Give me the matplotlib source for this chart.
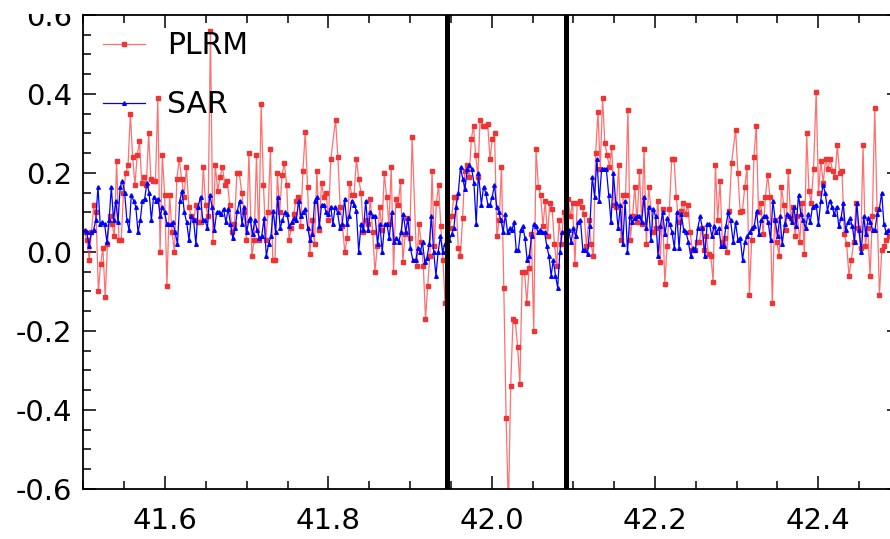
import numpy as np
import matplotlib
matplotlib.use("Agg")
import matplotlib.pyplot as plt
from matplotlib.patches import Rectangle
from matplotlib.ticker import MultipleLocator

# PLRM heights, one list per stretch of latitude
plrm_a = [0.05, 0.03, -0.02, 0.05, 0.12, 0.10, -0.10, -0.03, 0.01, -0.115, 0.02, 0.09, 0.07,
          0.04, 0.23, 0.03, 0.03, 0.15, 0.20, 0.22, 0.35, 0.24, 0.17, 0.245, 0.28, 0.175, 0.19,
          0.17, 0.30, 0.185, 0.18, 0.18, 0.39, 0.0, 0.245, 0.145, -0.085]
plrm_b = [0.145, 0.05, 0.0, 0.185, 0.235, 0.185, 0.14, 0.215, 0.115, 0.09, 0.08, 0.12, 0.075,
          0.075, 0.215, 0.12, 0.09, 0.56, 0.025, 0.22, 0.155, 0.19, 0.215, 0.17, 0.18, 0.12,
          0.05, 0.07, 0.2, 0.2, 0.15, 0.10, 0.03, 0.25]
plrm_c = [-0.01, 0.03, 0.245, 0.03, 0.375, 0.17, 0.03, 0.10, 0.26, -0.02, -0.02, 0.2, 0.10,
          0.195, 0.225, 0.17, 0.03, 0.06, 0.095, 0.13, 0.14, 0.065, 0.205, 0.305, 0.165, -0.005,
          0.08, 0.02, 0.205, 0.055, 0.175, 0.14, 0.15, 0.08, 0.235]
plrm_d = [0.335, 0.24, 0.115, 0.065, 0.0, 0.035, 0.175, 0.145, 0.145, 0.235, 0.185, 0.15, 0.05,
          0.08, 0.07, 0.135, 0.05, -0.05, 0.015, 0.115, 0.055, 0.20, 0.14, 0.07, 0.215, -0.05,
          0.135, 0.12, 0.18, -0.025, 0.045, 0.085, 0.035, 0.29]
plrm_e = [-0.035, 0.07, 0.025, -0.035, -0.17, -0.085, -0.01, 0.205, 0.015, 0.125, 0.17, 0.065,
          -0.02, -0.13, 0.03, 0.06, 0.09, 0.14, 0.14, 0.01, -0.01, 0.085, 0.205, 0.22, 0.19,
          0.285, 0.32, 0.245, 0.19, 0.335]
plrm_f = [0.32, 0.32, 0.325, 0.235, 0.285, 0.30, 0.04, 0.08, 0.215, -0.09, -0.42, -0.65, -0.34,
          -0.17, -0.175, -0.24, -0.335, -0.05, -0.05, -0.13, -0.04, 0.045, -0.20, 0.26, 0.165,
          0.145, 0.065, 0.13, 0.04, 0.125, 0.11, 0.02, -0.035, 0.08, 0.02, 0.10]
plrm_g = [0.135, 0.09, 0.125, -0.03, 0.125, 0.13, 0.115, 0.095, 0.015, 0.08, 0.02, -0.01, 0.25,
          0.355, 0.21, 0.39, 0.275, 0.245, 0.215, 0.265, 0.12, 0.115, 0.22, 0.03, 0.145, 0.145,
          0.36, 0.03, 0.09, 0.165, 0.075, 0.205, 0.07, 0.26, 0.02, 0.165]
plrm_h = [0.05, 0.06, 0.13, -0.025, 0.11, -0.08, 0.015, 0.11, 0.235, 0.235, 0.14, 0.075, 0.105,
          0.125, 0.095, 0.12, 0.05, 0.005, 0.005, 0.025, 0.025, 0.06, 0.005, 0.04, -0.005,
          -0.01, -0.075, 0.22, 0.08, 0.18, 0.025, 0.035, 0.0, 0.105, 0.225]
plrm_i = [0.31, 0.20, 0.10, 0.105, 0.165, 0.215, -0.11, 0.03, 0.24, 0.32, 0.10, 0.125, 0.045,
          0.14, 0.195, 0.14, -0.13, 0.08, 0.025, -0.01, 0.165, 0.12, 0.055, 0.205, 0.085, 0.115,
          0.04, 0.09, 0.025, 0.125, -0.005, 0.30, 0.155, 0.125, 0.21]
plrm_j = [0.405, 0.15, 0.23, 0.175, 0.235, 0.21, 0.235, 0.205, 0.19, 0.27, 0.20, 0.205, 0.045,
          0.02, -0.06, -0.02, 0.025, 0.125, 0.06, 0.01, 0.27, 0.015, 0.06, -0.06, 0.09, 0.365,
          0.11, -0.11, 0.005, 0.015, 0.03, 0.04]

# SAR heights
sar_a = [0.055, 0.05, 0.015, 0.05, 0.055, 0.08, 0.165, 0.07, 0.075, 0.07, 0.025, 0.08, 0.165,
         0.08, 0.13, 0.075, 0.165, 0.18, 0.15, 0.08, 0.055, 0.145, 0.13, 0.115, 0.05, 0.08, 0.13,
         0.135, 0.175, 0.15, 0.08, 0.14, 0.13, 0.135, 0.09, 0.115, 0.10, 0.07]
sar_b = [0.07, 0.07, 0.075, 0.05, 0.02, 0.13, 0.155, 0.10, 0.075, 0.03, 0.09, 0.08, 0.02, 0.115,
         0.14, 0.08, 0.08, 0.06, 0.145, 0.115, 0.055, 0.10, 0.10, 0.095, 0.11, 0.075, 0.11, 0.07,
         0.035, 0.06, 0.105, 0.13, 0.07, 0.115, 0.05, 0.08]
sar_c = [0.085, 0.045, 0.08, 0.055, 0.035, 0.04, 0.085, -0.01, 0.02, 0.04, 0.105, 0.05, 0.14,
         0.06, 0.08, 0.10, 0.095, 0.065, 0.075, 0.085, 0.08, 0.13, 0.09, 0.10, 0.11, 0.06, 0.03,
         0.045, 0.13, 0.14, 0.065, 0.12, 0.12, 0.10, 0.095, 0.115]
sar_d = [0.07, 0.115, 0.10, 0.06, 0.07, 0.135, 0.07, 0.09, 0.13, 0.12, 0.105, 0.0, 0.07, 0.055,
         0.13, 0.055, 0.10, 0.09, 0.09, 0.02, 0.07, 0.0, 0.07, 0.07, 0.035, 0.10, 0.025, 0.035,
         0.025, 0.05, 0.095, 0.05, 0.085, 0.01, -0.02]
sar_e = [-0.02, 0.01, 0.0, 0.025, -0.025, -0.015, 0.02, 0.09, 0.0, -0.06, 0.0, 0.04, 0.0, 0.02,
         0.03, 0.03, 0.045, 0.06, 0.115, 0.15, 0.215, 0.185, 0.16, 0.21, 0.22, 0.21, 0.175, 0.07,
         0.20]
sar_f = [0.12, 0.165, 0.15, 0.12, 0.12, 0.14, 0.17, 0.115, 0.10, 0.08, 0.05, 0.095, 0.05, 0.06,
         0.055, 0.075, 0.005, 0.005, 0.055, 0.065, 0.035, -0.02, -0.01, 0.04, 0.07, 0.065, 0.05,
         0.055, 0.05, 0.05, 0.015, -0.01, -0.06, -0.02, -0.06, -0.09, 0.0, 0.05]
sar_g = [0.055, 0.025, 0.06, 0.04, 0.075, 0.08, 0.005, 0.005, -0.005, 0.065, 0.19, 0.14, 0.235,
         0.13, 0.21, 0.21, 0.21, 0.145, 0.075, 0.2, 0.125, 0.06, 0.12, 0.02, 0.13, 0.0, 0.09,
         0.075, 0.085, 0.09, 0.09, 0.075, 0.14, 0.06, 0.115]
sar_h = [0.03, 0.11, 0.09, -0.01, 0.065, 0.10, 0.045, 0.085, 0.07, 0.05, 0.01, 0.10, 0.01, 0.095,
         0.055, 0.05, 0.025, -0.01, 0.01, 0.005, 0.06, 0.09, 0.06, -0.01, 0.07, 0.07, 0.04, 0.065,
         0.05, 0.06, 0.015, 0.015, 0.065, 0.10, 0.08]
sar_i = [0.025, 0.075, 0.03, 0.035, -0.02, 0.025, 0.04, 0.05, 0.06, 0.065, 0.105, 0.045, 0.08,
         0.09, 0.09, 0.075, 0.03, 0.13, 0.08, 0.04, 0.09, 0.02, 0.07, 0.095, 0.09, 0.075, 0.115,
         0.065, 0.145, 0.095, 0.08, 0.06, 0.095, 0.075, 0.115]
sar_j = [0.12, 0.07, 0.13, 0.17, 0.15, 0.105, 0.13, 0.115, 0.095, 0.115, 0.065, 0.085, 0.125,
         0.055, 0.075, 0.085, 0.065, 0.025, 0.125, 0.055, 0.0, 0.09, 0.045, 0.085, 0.075, 0.055,
         0.055, 0.095, 0.11, 0.15, 0.07, 0.05, 0.055]

# first and last latitude of each stretch (samples are evenly spaced inside it)
plrm_edges = [(41.5014, 41.6022), (41.6055, 41.7026), (41.7062, 41.8029), (41.8087, 41.9025),
              (41.9082, 41.9857), (41.9894, 42.0881), (42.0934, 42.1922), (42.1979, 42.2937),
              (42.2987, 42.3941), (42.3974, 42.4863)]
sar_edges = [(41.5014, 41.6022), (41.6038, 41.7026), (41.7042, 41.8029), (41.8054, 41.9033),
             (41.9070, 41.9837), (41.9873, 42.0861), (42.0943, 42.1922), (42.1950, 42.2925),
             (42.2958, 42.3929), (42.3974, 42.4859)]

# borders of the zone marked by the black lines
zone_lat = [41.945, 42.091]

x_ticks = [41.6, 41.8, 42.0, 42.2, 42.4]
y_ticks = [-0.6, -0.4, -0.2, 0.0, 0.2, 0.4, 0.6]


def join(parts, edges):
    lat = np.concatenate([np.linspace(a, b, len(p)) for p, (a, b) in zip(parts, edges)])
    h = np.concatenate([np.asarray(p, dtype=float) for p in parts])
    return lat, h


def main():
    plt.rcParams['axes.unicode_minus'] = False
    plrm_lat, plrm = join([plrm_a, plrm_b, plrm_c, plrm_d, plrm_e,
                           plrm_f, plrm_g, plrm_h, plrm_i, plrm_j], plrm_edges)
    sar_lat, sar = join([sar_a, sar_b, sar_c, sar_d, sar_e,
                         sar_f, sar_g, sar_h, sar_i, sar_j], sar_edges)

    fig = plt.figure(figsize=(8.9, 5.39), dpi=100)
    ax = fig.add_axes([0.0938, 0.0928, 0.9174, 0.8794])

    ax.plot(plrm_lat, plrm, color=(1.0, 0.2, 0.2, 0.7), lw=0.9, marker='s', ms=2.6,
            mfc='#f03434', mec='#f03434', label='PLRM')
    ax.plot(sar_lat, sar, color='#0000ff', lw=0.9, marker='^', ms=2.6, label='SAR')

    for z in zone_lat:
        ax.axvline(z, color='black', lw=3.6)

    ax.set_xlim(41.5, 42.5)
    ax.set_ylim(-0.6, 0.6)
    ax.xaxis.set_minor_locator(MultipleLocator(0.05))
    ax.yaxis.set_minor_locator(MultipleLocator(0.05))
    ax.set_xticks(x_ticks)
    ax.set_xticklabels(['%.1f' % t for t in x_ticks])
    ax.set_yticks(y_ticks)
    ax.set_yticklabels(['%.1f' % t for t in y_ticks])
    ax.tick_params(which='both', direction='in', top=True, right=True, width=1.1)
    ax.tick_params(which='major', length=9.5, labelsize=21)
    ax.tick_params(which='minor', length=5.8)
    ax.tick_params(axis='x', which='major', pad=13)
    ax.tick_params(axis='y', which='major', pad=8)
    for s in ax.spines.values():
        s.set_linewidth(1.3)

    ax.legend(loc='upper left', bbox_to_anchor=(0.024, 0.966), frameon=False, fontsize=21.5,
              handlelength=1.4, handletextpad=0.74, labelspacing=1.0, borderpad=0,
              borderaxespad=0)

    # the picture is cut just above the frame, hiding the top half of "0.6"
    fig.add_artist(Rectangle((0, 1 - 14 / 539), 1, 14 / 539, transform=fig.transFigure,
                             facecolor='white', edgecolor='none', zorder=10))

    fig.savefig('out.png', dpi=100)


if __name__ == "__main__":
    main()
